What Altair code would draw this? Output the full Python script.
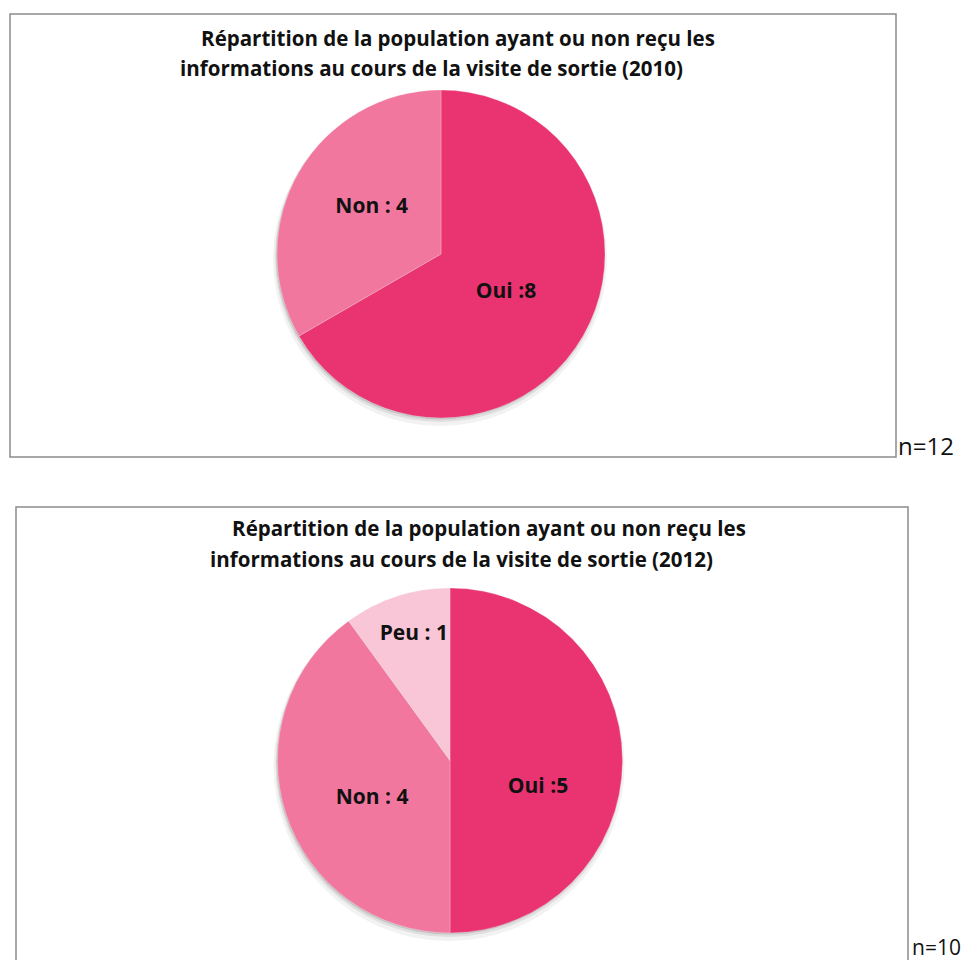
import altair as alt
import pandas as pd

# ---- data ----
cats_2010 = ["Oui", "Non"]
vals_2010 = [8, 4]
labels_2010 = ["Oui :8", "Non : 4"]

cats_2012 = ["Oui", "Non", "Peu"]
vals_2012 = [5, 4, 1]
labels_2012 = ["Oui :5", "Non : 4", "Peu : 1"]

title_2010 = ["Répartition de la population ayant ou non reçu les",
              "informations au cours de la visite de sortie (2010)"]
title_2012 = ["Répartition de la population ayant ou non reçu les",
              "informations au cours de la visite de sortie (2012)"]
n_2010 = "n=12"
n_2012 = "n=10"

color_domain = ["Oui", "Non", "Peu"]
color_range = ["#EA3471", "#F2779F", "#F8C6D6"]

FONT = "Open Sans"
W, H = 955, 952


def frame(x1, y1, x2, y2):
    return alt.Chart(pd.DataFrame({"k": [0]})).mark_rect(
        fill=None, stroke="#8c8c8c", strokeWidth=1.5
    ).encode(x=alt.value(x1), x2=alt.value(x2), y=alt.value(y1), y2=alt.value(y2))


def text_line(txt, x, y, size, bold=True, align="center", baseline="middle"):
    return alt.Chart(pd.DataFrame({"t": [txt]})).mark_text(
        font=FONT, fontSize=size, fontWeight="bold" if bold else "normal",
        align=align, baseline=baseline, color="#111111"
    ).encode(text="t:N", x=alt.value(x), y=alt.value(y))


def pie(cats, vals, labels, cx, cy, r, label_pos):
    df = pd.DataFrame({"cat": cats, "value": vals, "label": labels,
                       "order": list(range(len(cats)))})
    total = sum(vals)
    layers = []
    # soft shadow
    for off, extra, op in [(5, 3, 0.05), (3, 1, 0.08), (1.5, 0, 0.12)]:
        layers.append(
            alt.Chart(pd.DataFrame({"k": [0]})).mark_arc(
                radius=r + extra, theta=0, theta2=6.2832, fill="#000000", opacity=op
            ).encode(x=alt.value(cx - 1), y=alt.value(cy + off))
        )
    layers.append(
        alt.Chart(df).mark_arc(radius=r, stroke="#ffffff", strokeWidth=0.4, strokeOpacity=0.6).encode(
            theta=alt.Theta("value:Q", stack=True),
            color=alt.Color("cat:N", scale=alt.Scale(domain=color_domain, range=color_range), legend=None),
            order=alt.Order("order:Q"),
            x=alt.value(cx), y=alt.value(cy),
        )
    )
    base = alt.Chart(df).transform_window(
        cum="sum(value)", sort=[alt.SortField("order")]
    ).transform_calculate(mid="datum.cum - datum.value / 2")
    for c in cats:
        rr, dx, dy = label_pos[c]
        layers.append(
            base.transform_filter(alt.datum.cat == c).mark_text(
                radius=rr, dx=dx, dy=dy, font=FONT, fontSize=21, fontWeight="bold",
                align="center", baseline="middle", color="#111111"
            ).encode(
                theta=alt.Theta("mid:Q", scale=alt.Scale(domain=[0, total]), stack=None),
                text="label:N",
                x=alt.value(cx), y=alt.value(cy),
            )
        )
    return layers


layers = []
layers.append(frame(2, 6, 888, 449))
layers.append(frame(8, 499, 900, 980))
layers.append(text_line(title_2010[0], 450, 32, 20.5))
layers.append(text_line(title_2010[1], 423.5, 62, 20.5))
layers.append(text_line(title_2012[0], 481, 522, 20.5))
layers.append(text_line(title_2012[1], 453.5, 553, 20.5))
layers.append(text_line(n_2010, 890, 440, 24, bold=False, align="left"))
layers.append(text_line(n_2012, 904, 951, 21, bold=False, align="left", baseline="bottom"))

layers += pie(cats_2010, vals_2010, labels_2010, 433, 246, 164,
              {"Oui": (75, 0, 0), "Non": (80, 0, -7)})
layers += pie(cats_2012, vals_2012, labels_2012, 442, 752.5, 172.5,
              {"Oui": (88, 0, 26), "Non": (85, 3, 11), "Peu": (130, 4, -3)})

chart = alt.layer(*layers).resolve_scale(theta="independent").properties(
    width=W, height=H, padding=0, autosize=alt.AutoSizeParams(type="none"),
    background="#ffffff"
).configure_view(stroke=None)

chart.save("out.html", embed_options={"renderer": "svg", "actions": False})
